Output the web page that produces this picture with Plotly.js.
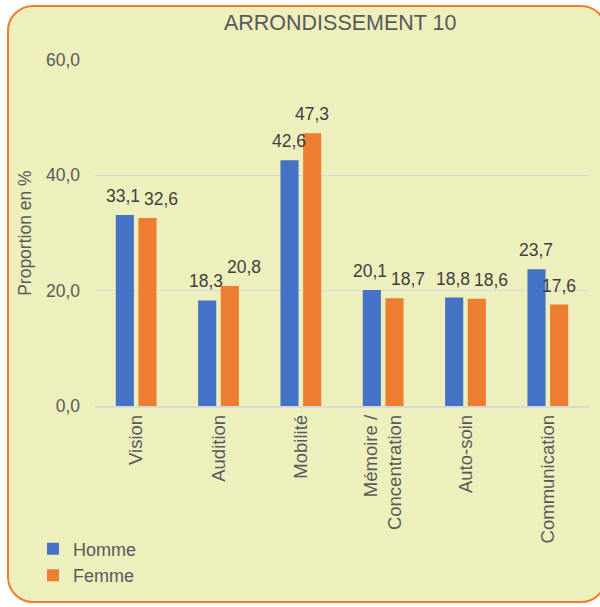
<!DOCTYPE html>
<html>
<head>
<meta charset="utf-8">
<script src="https://cdn.plot.ly/plotly-3.0.1.min.js"></script>
<style>
html,body{margin:0;padding:0;background:#ffffff;width:600px;height:607px;overflow:hidden;}
#frame{position:absolute;left:7px;top:5px;width:600px;height:598px;background:#EDEFBD;border:2px solid #ED7D31;border-radius:26px;box-sizing:border-box;}
#chart{position:absolute;left:0;top:0;width:600px;height:607px;}
</style>
</head>
<body>
<div id="frame"></div>
<div id="chart"></div>
<script>
const categories = ["Vision", "Audition", "Mobilité", "Mémoire /<br>Concentration", "Auto-soin", "Communication"];
const homme = [33.1, 18.3, 42.6, 20.1, 18.8, 23.7];
const femme = [32.6, 20.8, 47.3, 18.7, 18.6, 17.6];
const yTicks = [0, 20, 40, 60];
const yTickLabels = ["0,0", "20,0", "40,0", "60,0"];

const fmt = v => v.toFixed(1).replace('.', ',');
const font = "Liberation Sans, Arial, sans-serif";
const txt = '#404040';
const gray = '#595959';
const FS = 17.5;

const traces = [
  {type:'bar', name:'Homme', x:categories, y:homme, marker:{color:'#4472C4'}, hoverinfo:'none'},
  {type:'bar', name:'Femme', x:categories, y:femme, marker:{color:'#ED7D31'}, hoverinfo:'none'}
];

// data labels, placed with the y axis scale; when the two labels of a group
// would collide (bars of similar height), nudge them apart horizontally
const pxPerUnit = 346 / 60;
const annotations = [];
categories.forEach((c, i) => {
  const close = Math.abs(homme[i] - femme[i]) * pxPerUnit < 20;
  annotations.push({x:c, y:homme[i], xref:'x', yref:'y', text:fmt(homme[i]), showarrow:false,
    xanchor:'center', yanchor:'bottom', xshift:close ? -13 : -11.5, yshift:7,
    font:{size:FS, color:txt, family:font}});
  annotations.push({x:c, y:femme[i], xref:'x', yref:'y', text:fmt(femme[i]), showarrow:false,
    xanchor:'center', yanchor:'bottom', xshift:close ? 25 : 11.5, yshift:7,
    font:{size:FS, color:txt, family:font}});
});
annotations.push({text:'Proportion en %', xref:'paper', yref:'paper', x:-0.142, y:0.5,
  xanchor:'center', yanchor:'middle', textangle:-90, showarrow:false,
  font:{size:FS, color:gray, family:font}});

const layout = {
  width:600, height:607,
  paper_bgcolor:'rgba(0,0,0,0)', plot_bgcolor:'rgba(0,0,0,0)',
  margin:{l:95, r:11, t:60, b:201, autoexpand:false},
  font:{family:font, color:gray, size:FS},
  title:{text:'ARRONDISSEMENT 10', font:{size:21.5, color:gray, family:font},
         x:0.567, xanchor:'center', y:0.963, yanchor:'middle', xref:'container', yref:'container'},
  barmode:'group', bargap:0.45, bargroupgap:0.2,
  showlegend:true,
  legend:{xref:'container', yref:'container', x:0.055, y:0.074, xanchor:'left', yanchor:'middle',
          orientation:'v', font:{size:18, color:gray, family:font}, bgcolor:'rgba(0,0,0,0)',
          traceorder:'normal', itemwidth:30},
  annotations:annotations,
  xaxis:{type:'category', tickangle:-90, showgrid:false, showline:true, linecolor:'#D9D9D9', linewidth:1.5,
         ticks:'', tickfont:{size:18.5, color:gray, family:font}, automargin:false},
  yaxis:{range:[0,60], tickvals:yTicks, ticktext:yTickLabels, showgrid:true, gridcolor:'#D9D9D9', gridwidth:1.5,
         zeroline:false, showline:false, ticks:'', ticklabelstandoff:14,
         tickfont:{size:FS, color:gray, family:font}, automargin:false}
};

Plotly.newPlot('chart', traces, layout, {displayModeBar:false, staticPlot:true});
</script>
</body>
</html>
